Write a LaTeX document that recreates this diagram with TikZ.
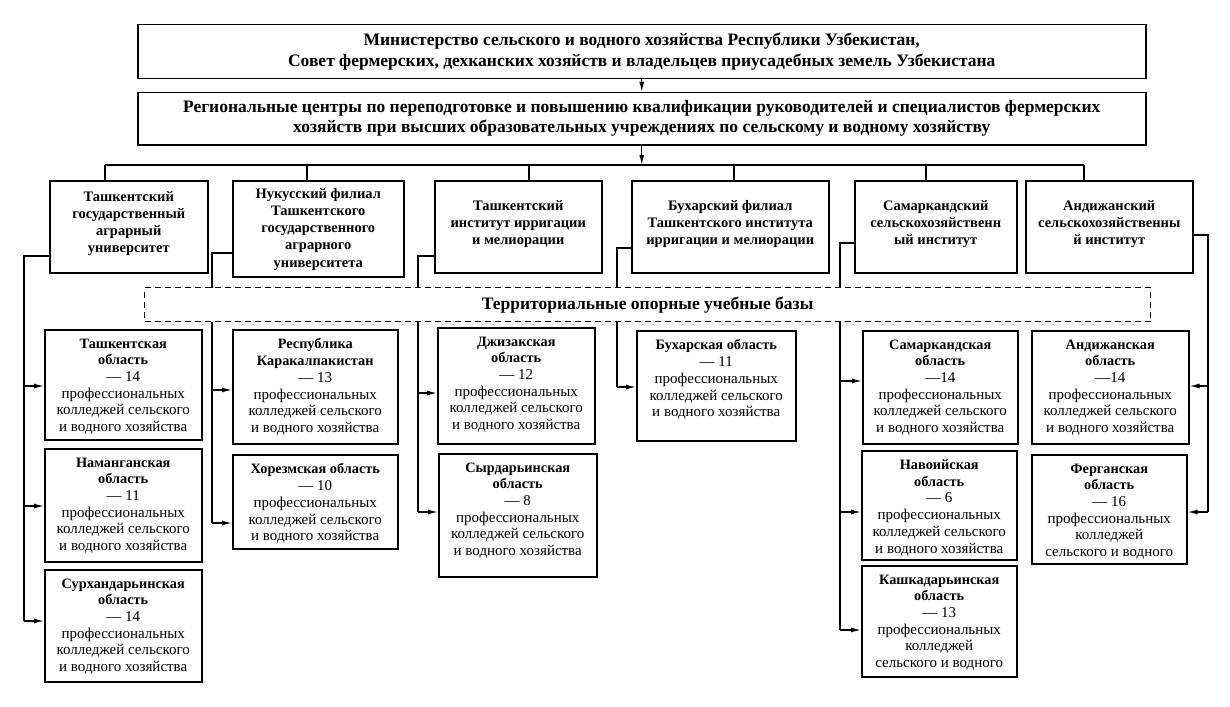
\documentclass[tikz,border=0pt]{standalone}
\usepackage{fontspec}
\setmainfont{Liberation Serif}
\usetikzlibrary{arrows.meta}
\tikzset{
  bx/.style={draw, line width=1.5pt, inner sep=0pt},
  ln/.style={line width=1.3pt},
  arr/.style={line width=1.3pt, -{Latex[length=10pt,width=5pt]}},
  tx/.style={align=center, inner sep=0pt, font=\fontsize{15}{16.7}\selectfont},
  mt/.style={align=center, inner sep=0pt, font=\fontsize{14.5}{17.2}\selectfont\bfseries},
  hd/.style={bx, align=center, anchor=north west, font=\fontsize{17.5}{21}\selectfont\bfseries},
  dsh/.style={draw, line width=1.3pt, dash pattern=on 6pt off 4pt, fill=white, inner sep=0pt,
    anchor=north west, font=\fontsize{17.5}{20}\selectfont\bfseries},
}
\newcommand\bt[1]{{\fontsize{14.3}{16.7}\selectfont\bfseries #1}}
\newcommand\midbox[7]{%
  \node[bx, anchor=north west, minimum width={#4-#2}, minimum height={#5-#3}] (#1) at (#2,#3) {};
  \node[mt, anchor=north] (#1t) at ([yshift={-#6}]#1.north) {#7};}
\newcommand\botbox[6]{%
  \node[bx, anchor=north west, minimum width={#4-#2}, minimum height={#5-#3}] (#1) at (#2,#3) {};
  \node[tx, anchor=north] (#1t) at ([yshift=-9.5pt]#1.north) {#6};}
\newcommand\feedR[3]{\draw[arr] (#1 |- 0,#3) -- (#2.west |- 0,#3);}
\newcommand\feedL[3]{\draw[arr] (#1 |- 0,#3) -- (#2.east |- 0,#3);}
\newcommand\colltxt{профессиональных\\колледжей сельского\\и водного хозяйства}
\begin{document}
\begin{tikzpicture}[x=1pt, y=-1pt]
\useasboundingbox (0,0) rectangle (1230,706);

% top boxes
\node[hd, minimum width=1008, minimum height=54] (c1) at (137,24)
  {Министерство сельского и водного хозяйства Республики Узбекистан,\\Совет фермерских, дехканских хозяйств и владельцев приусадебных земель Узбекистана};
\node[hd, minimum width=1008, minimum height=52, font=\fontsize{17.5}{20}\selectfont\bfseries] (c2) at (137,92)
  {Региональные центры по переподготовке и повышению квалификации руководителей и специалистов фермерских\\хозяйств при высших образовательных учреждениях по сельскому и водному хозяйству};

% bus
\coordinate (busL) at (105,165);
\coordinate (busR) at (1084,165);
\coordinate (d2) at (307,165);
\coordinate (d3) at (529,165);
\coordinate (d4) at (734,165);
\coordinate (d5) at (926,165);

\draw[arr] (c1.south) -- (c2.north);
\draw[arr] (c2.south) -- (c2.south |- busL);
\draw[ln] (busL) -- (busR);

% middle row
\midbox{m1}{49}{180}{207}{272}{11}{Ташкентский\\государственный\\аграрный\\университет}
\midbox{m2}{232}{180}{403}{276}{8}{Нукусский филиал\\Ташкентского\\государственного\\аграрного\\университета}
\midbox{m3}{434}{180}{601}{272}{20}{Ташкентский\\институт ирригации\\и мелиорации}
\midbox{m4}{631}{180}{828}{272}{20}{Бухарский филиал\\Ташкентского института\\ирригации и мелиорации}
\midbox{m5}{854}{180}{1016}{272}{20}{Самаркандский\\сельскохозяйственн\\ый институт}
\midbox{m6}{1025}{180}{1192}{272}{20}{Андижанский\\сельскохозяйственны\\й институт}

\draw[ln] (busL) -- (busL |- m1.north);
\draw[ln] (d2) -- (d2 |- m2.north);
\draw[ln] (d3) -- (d3 |- m3.north);
\draw[ln] (d4) -- (d4 |- m4.north);
\draw[ln] (d5) -- (d5 |- m5.north);
\draw[ln] (busR) -- (busR |- m6.north);

% spines
\coordinate (s1) at (24,0);
\coordinate (s2) at (212,0);
\coordinate (s3) at (418,0);
\coordinate (s4) at (617,0);
\coordinate (s5) at (840,0);
\coordinate (s6) at (1208,0);
\draw[ln] (m1.west |- 0,256) -- (s1 |- 0,256) -- (s1 |- 0,621);
\draw[ln] (m2.west |- 0,253) -- (s2 |- 0,253) -- (s2 |- 0,523);
\draw[ln] (m3.west |- 0,256) -- (s3 |- 0,256) -- (s3 |- 0,512);
\draw[ln] (m4.west |- 0,248) -- (s4 |- 0,248) -- (s4 |- 0,387);
\draw[ln] (m5.west |- 0,243) -- (s5 |- 0,243) -- (s5 |- 0,630);
\draw[ln] (m6.east |- 0,235) -- (s6 |- 0,235) -- (s6 |- 0,512);

% dashed band
\node[dsh, minimum width=1006, minimum height=34] (band) at (144,287) {Территориальные опорные учебные базы};

% bottom boxes
\botbox{b11}{44}{329}{201}{439}{\bt{Ташкентская}\\\bt{область}\\— 14\\\colltxt}
\botbox{b12}{44}{448}{201}{561}{\bt{Наманганская}\\\bt{область}\\— 11\\\colltxt}
\botbox{b13}{44}{569}{201}{681}{\bt{Сурхандарьинская}\\\bt{область}\\— 14\\\colltxt}
\botbox{b21}{232}{329}{397}{443}{\bt{Республика}\\\bt{Каракалпакистан}\\— 13\\\colltxt}
\botbox{b22}{232}{454}{397}{548}{\bt{Хорезмская область}\\— 10\\\colltxt}
\botbox{b31}{437}{327}{594}{443}{\bt{Джизакская}\\\bt{область}\\— 12\\\colltxt}
\botbox{b32}{438}{453}{596}{576}{\bt{Сырдарьинская}\\\bt{область}\\— 8\\\colltxt}
\botbox{b41}{636}{330}{795}{440}{\bt{Бухарская область}\\— 11\\\colltxt}
\botbox{b51}{862}{330}{1017}{443}{\bt{Самаркандская}\\\bt{область}\\—14\\\colltxt}
\botbox{b52}{861}{450}{1016}{559}{\bt{Навоийская}\\\bt{область}\\— 6\\\colltxt}
\botbox{b53}{861}{565}{1016}{676}{\bt{Кашкадарьинская}\\\bt{область}\\— 13\\профессиональных\\колледжей\\сельского и водного}
\botbox{b61}{1031}{330}{1188}{443}{\bt{Андижанская}\\\bt{область}\\—14\\\colltxt}
\botbox{b62}{1031}{454}{1186}{563}{\bt{Ферганская}\\\bt{область}\\— 16\\профессиональных\\колледжей\\сельского и водного}

% feeds
\feedR{s1}{b11}{386}
\feedR{s1}{b12}{506}
\feedR{s1}{b13}{621}
\feedR{s2}{b21}{390}
\feedR{s2}{b22}{523}
\feedR{s3}{b31}{393}
\feedR{s3}{b32}{512}
\feedR{s4}{b41}{387}
\feedR{s5}{b51}{381}
\feedR{s5}{b52}{512}
\feedR{s5}{b53}{630}
\feedL{s6}{b61}{386}
\feedL{s6}{b62}{512}
\end{tikzpicture}
\end{document}
